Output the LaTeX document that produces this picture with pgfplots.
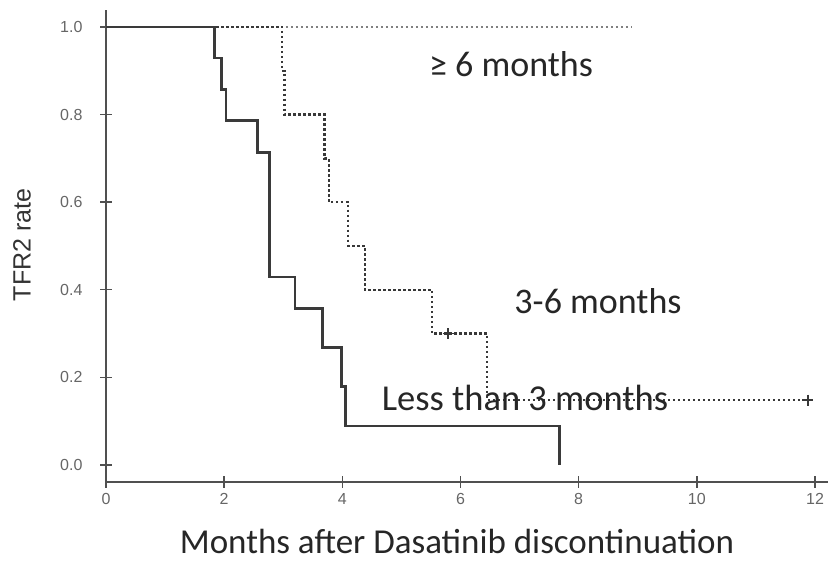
\documentclass[border=0pt]{standalone}
\usepackage{fontspec}
\setmainfont{Carlito}
\newfontfamily\arial{Liberation Sans}
\usepackage{pgfplots}
\pgfplotsset{compat=1.18}
\definecolor{axc}{HTML}{505050}
\definecolor{solidc}{HTML}{3A3A3A}
\definecolor{dotc}{HTML}{383838}
\definecolor{lightc}{HTML}{808080}
\begin{document}
\begin{tikzpicture}[x=1bp,y=1bp]
\useasboundingbox (0,0) rectangle (830,562);
\begin{axis}[
  at={(106bp,80bp)}, anchor=south west,
  scale only axis, width=722bp, height=472bp,
  xmin=0, xmax=12.22, ymin=-0.0388, ymax=1.0388,
  axis x line=bottom, axis y line=left,
  axis line style={-, line width=2bp, color=axc},
  xtick={0,2,4,6,8,10,12}, ytick={0,0.2,0.4,0.6,0.8,1.0},
  major tick length=12bp, tick align=center,
  tick style={line width=1.4bp, color=axc},
  yticklabel style={/pgf/number format/fixed, /pgf/number format/fixed zerofill, /pgf/number format/precision=1, xshift=-14bp},
  xticklabel style={yshift=-2bp},
  /pgf/number format/assume math mode=true,
  ticklabel style={font=\arial\fontsize{16bp}{18bp}\selectfont, color=black!60},
  clip=false,
]
% >= 6 months
\addplot[const plot, color=lightc, line width=1.8bp, dash pattern=on 1.8bp off 3.2bp] coordinates {(0,1) (8.9,1)};
% 3-6 months
\addplot[const plot, color=dotc, line width=2.4bp, dash pattern=on 2.5bp off 2.5bp] coordinates {
(0,1) (2.98,0.9) (3.02,0.8) (3.70,0.7) (3.77,0.6) (4.10,0.5) (4.38,0.4) (5.52,0.3) (6.45,0.148) (11.93,0.148)};
\addplot[only marks, mark=+, mark size=5.5bp, color=dotc, line width=1.6bp] coordinates {(5.79,0.3) (11.88,0.148)};
% less than 3 months
\addplot[const plot, color=solidc, line width=2.8bp] coordinates {
(0,1) (1.84,0.929) (1.96,0.857) (2.03,0.786) (2.57,0.714) (2.77,0.429) (3.20,0.357) (3.67,0.268) (3.99,0.179) (4.05,0.089) (7.68,0.089) (7.68,0.0)};
\end{axis}
\node[font=\fontsize{36bp}{42bp}\selectfont, text=black!85] at (511,498) {≥ 6 months};
\node[font=\fontsize{36bp}{42bp}\selectfont, text=black!85] at (598,261) {3-6 months};
\node[font=\fontsize{36.5bp}{42bp}\selectfont, text=black!85] at (525,164) {Less than 3 months};
\node[font=\fontsize{35bp}{42bp}\selectfont, text=black!85] at (457,21) {Months after Dasatinib discontinuation};
\node[font=\arial\fontsize{25bp}{28bp}\selectfont, text=black!80, rotate=90] at (22,317) {TFR2 rate};
\end{tikzpicture}
\end{document}
